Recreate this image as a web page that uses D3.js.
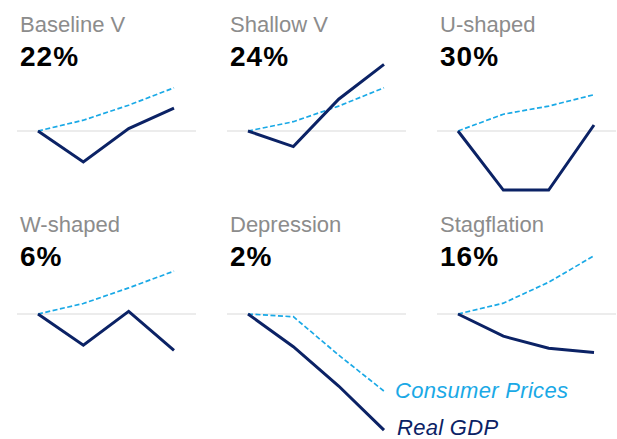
<!DOCTYPE html>
<html>
<head>
    <meta charset="utf-8">
    <script src="https://cdn.jsdelivr.net/npm/d3@7"></script>
    <style>
        body { margin: 0; background: #fff; }
        svg { font-family: "Liberation Sans", Arial, sans-serif; display: block; }
        .title { fill: #8c8c8c; font-size: 22px; }
        .pct { fill: #000; font-size: 28px; font-weight: bold; letter-spacing: 1px; }
        .zero { stroke: #d9d9d9; stroke-width: 1.2px; }
        .gdp { fill: none; stroke: #0b2265; stroke-width: 3px; stroke-linejoin: miter; }
        .cpi { fill: none; stroke: #1aa9e6; stroke-width: 1.7px; stroke-dasharray: 5,2.5; }
        .legend { font-size: 22px; font-style: italic; letter-spacing: 0.3px; }
    </style>
</head>
<body>
<div id="chart"></div>
<script>
    // scenarios, left to right, top to bottom
    var scenarios = ["Baseline V", "Shallow V", "U-shaped", "W-shaped", "Depression", "Stagflation"];
    var shares = ["22%", "24%", "30%", "6%", "2%", "16%"];
    var steps = [0, 1, 2, 3];

    // change from the starting point, same units in every panel
    var realGdp = [
        [0, -10.3, 0.8, 7.6],
        [0, -5.2, 10.6, 22.2],
        [0, -19.7, -19.7, 2],
        [0, -10.4, 0.9, -12.1],
        [0, -10.9, -24, -38.7],
        [0, -7.4, -11.4, -12.8]
    ];
    var consumerPrices = [
        [0, 3.6, 8.6, 14.4],
        [0, 3.1, 8.3, 14.4],
        [0, 5.6, 8.3, 12.1],
        [0, 3.5, 8.7, 14.3],
        [0, -0.9, -13.7, -25.7],
        [0, 3.6, 10.6, 19.4]
    ];

    var width = 617,
        height = 439;

    var svg = d3.select("#chart").append("svg")
        .attr("width", width)
        .attr("height", height);

    var colX = d3.scaleLinear().domain([0, 1]).range([38, 248]);
    var rowTop = d3.scaleLinear().domain([0, 1]).range([0, 200]);
    var rowZero = [131, 314];

    var x = d3.scaleLinear().domain([0, 3]).range([0, 136]);
    var y = d3.scaleLinear().domain([0, 1]).range([0, -3]);

    var line = d3.line()
        .x(function(d, i) { return x(steps[i]); })
        .y(function(d) { return y(d); });

    scenarios.forEach(function(name, k) {
        var col = k % 3, row = Math.floor(k / 3);
        var g = svg.append("g")
            .attr("transform", "translate(" + colX(col) + "," + rowTop(row) + ")");

        g.append("text").attr("class", "title")
            .attr("x", -18).attr("y", 32)
            .text(name);
        g.append("text").attr("class", "pct")
            .attr("x", -18).attr("y", 66)
            .text(shares[k]);

        var plot = g.append("g")
            .attr("transform", "translate(0," + (rowZero[row] - rowTop(row)) + ")");

        plot.append("line").attr("class", "zero")
            .attr("x1", x(0) - 21).attr("x2", x(3) + 22)
            .attr("y1", y(0)).attr("y2", y(0));

        plot.append("path").attr("class", "cpi").attr("d", line(consumerPrices[k]));
        plot.append("path").attr("class", "gdp").attr("d", line(realGdp[k]));

        // legend sits at the ends of the Depression lines
        if (name === "Depression") {
            plot.append("text").attr("class", "legend")
                .attr("x", x(3) + 11).attr("y", y(consumerPrices[k][3]) + 7)
                .style("fill", "#1aa9e6")
                .text("Consumer Prices");
            plot.append("text").attr("class", "legend")
                .attr("x", x(3) + 13).attr("y", y(realGdp[k][3]) + 4.5)
                .style("fill", "#0b2265")
                .text("Real GDP");
        }
    });
</script>
</body>
</html>
